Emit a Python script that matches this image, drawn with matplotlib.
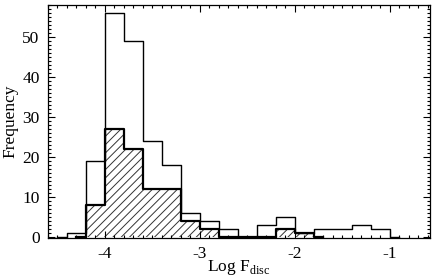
import numpy as np
import matplotlib
matplotlib.use("Agg")
import matplotlib.pyplot as plt
from matplotlib.ticker import MultipleLocator, FixedLocator

plt.rcParams['font.family'] = ['Liberation Serif', 'DejaVu Serif']
plt.rcParams['mathtext.fontset'] = 'custom'
plt.rcParams['mathtext.rm'] = 'Liberation Serif'
plt.rcParams['axes.unicode_minus'] = False
plt.rcParams['hatch.linewidth'] = 0.7

# Bin left edges (width 0.2)
all_edges_left = [-4.4, -4.2, -4.0, -3.8, -3.6, -3.4, -3.2, -3.0, -2.8, -2.6,
                  -2.4, -2.2, -2.0, -1.8, -1.6, -1.4, -1.2]
all_counts = [1, 19, 56, 49, 24, 18, 6, 4, 2, 0, 3, 5, 1, 2, 2, 3, 2]

sub_edges_left = [-4.2, -4.0, -3.8, -3.6, -3.4, -3.2, -3.0, -2.8, -2.6, -2.4,
                  -2.2, -2.0]
sub_counts = [8, 27, 22, 12, 12, 4, 2, 0, 0, 0, 2, 1]

binw = 0.2

def step_xy(lefts, counts, w):
    lefts = np.asarray(lefts, float)
    counts = np.asarray(counts, float)
    edges = np.append(lefts, lefts[-1] + w)
    x = np.concatenate([[edges[0] - w / 2], edges, [edges[-1] + w / 2]])
    y = np.concatenate([[0], counts, [0, 0]])
    return x, y, edges

fig = plt.figure(figsize=(4.36, 2.80), dpi=100)
ax = fig.add_axes([0.110, 0.150, 0.876, 0.832])

# hatched subset
xs, ys, es = step_xy(sub_edges_left, sub_counts, binw)
ax.stairs(sub_counts, es, fill=True, facecolor='white', edgecolor='#333333',
          hatch='////', linewidth=0)
ax.step(xs, ys, where='post', color='black', lw=1.6, zorder=3)

# full sample
xa, ya, ea = step_xy(all_edges_left, all_counts, binw)
ax.step(xa, ya, where='post', color='black', lw=1.0, zorder=4)

ax.set_xlim(-4.6, -0.58)
ax.set_ylim(-0.3, 58)

ax.xaxis.set_major_locator(FixedLocator([-4, -3, -2, -1]))
ax.xaxis.set_minor_locator(MultipleLocator(0.1))
ax.yaxis.set_major_locator(MultipleLocator(10))
ax.yaxis.set_minor_locator(MultipleLocator(1))
ax.set_xticklabels(['-4', '-3', '-2', '-1'])

ax.tick_params(which='both', direction='in', top=True, right=True,
               labelsize=12.5, width=0.8)
ax.tick_params(which='major', length=5, pad=6)
ax.tick_params(which='minor', length=2.5)
for s in ax.spines.values():
    s.set_linewidth(0.9)

fig.text(0.548, 0.012, r'Log F$_{\rm disc}$', fontsize=12.5,
         ha='center', va='bottom')
ax.set_ylabel('Frequency', fontsize=12.5, labelpad=3)

fig.savefig('out.png', dpi=100)
